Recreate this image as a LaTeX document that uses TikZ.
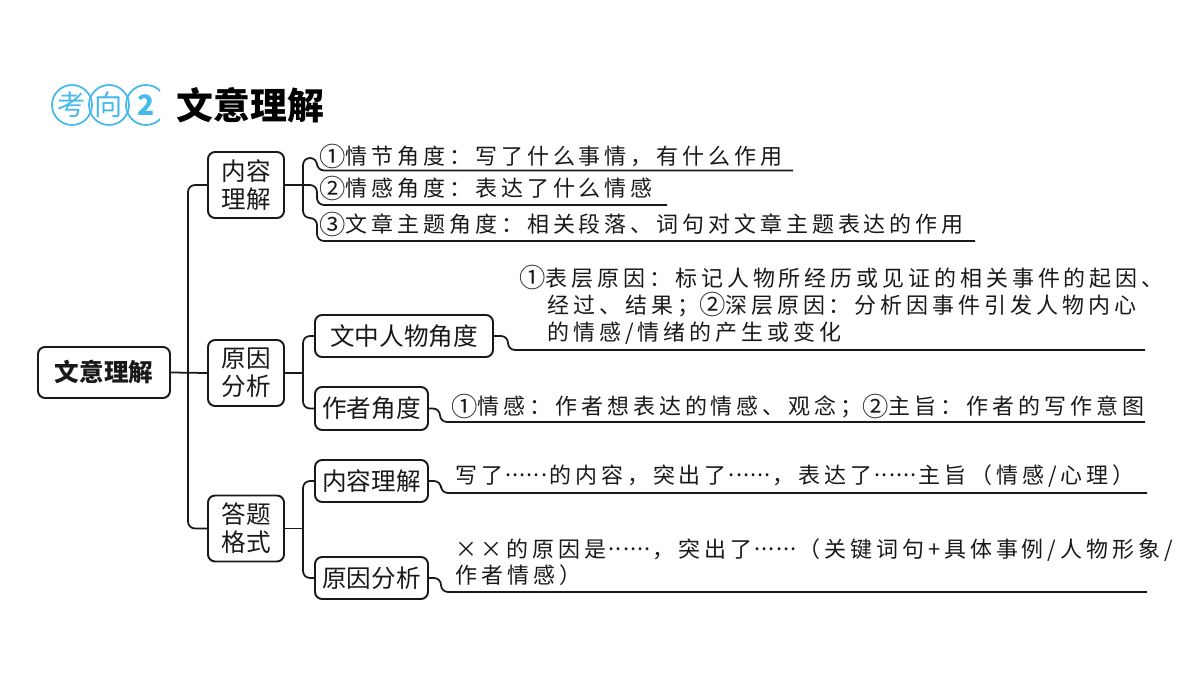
\documentclass[tikz,border=0pt]{standalone}
\usepackage{fontspec}
\usepackage{graphicx}
\setmainfont{Noto Sans CJK SC}
\newfontfamily\cjkitem[LetterSpace=18]{Noto Sans CJK SC}
\newcommand{\circn}[1]{\raisebox{-0.07em}{\scalebox{1.2}{#1}}}
\newcommand{\sixdots}{\raisebox{0.32em}{\makebox[2.1em]{\hfil.\hfil.\hfil.\hfil.\hfil.\hfil.\hfil}}}
\definecolor{badge}{RGB}{70,185,235}
\definecolor{ink}{RGB}{25,25,25}
\begin{document}
\begin{tikzpicture}[x=0.02cm,y=-0.02cm,
  box/.style={draw=ink, line width=1.1pt, rounded corners=4pt, inner sep=0pt, align=center, text=ink},
  boxtwo/.style={box, minimum width=1.52cm, minimum height=1.32cm, font=\fontsize{14}{16}\selectfont},
  boxthree/.style={box, minimum width=2.26cm, minimum height=0.84cm, font=\fontsize{14}{16}\selectfont},
  conn/.style={draw=ink, line width=1pt, rounded corners=4pt},
  item/.style={anchor=west, inner sep=0pt, font=\cjkitem\fontsize{12.5}{15.6}\selectfont, align=left, text=ink},
  badgec/.style={circle, draw=badge, line width=1pt, minimum size=0.8cm, inner sep=0pt, text=badge, font=\fontsize{16}{16}\selectfont},
]
\useasboundingbox (0,0) rectangle (1200,675);

% title
\begin{scope}
\clip (40,80) rectangle (160,130);
\node[badgec] (k1) at (72,105) {考};
\node[badgec] (k2) at (109,105) {向};
\node[badgec, font=\bfseries\fontsize{16}{16}\selectfont] (k3) at (146,105) {2};
\end{scope}
\node[anchor=west, inner sep=0pt, font=\bfseries\fontsize{21}{21}\selectfont] (title) at (176,105) {文意理解};

% main nodes
\node[box, minimum width=2.64cm, minimum height=1.02cm, font=\bfseries\fontsize{14}{16}\selectfont] (root) at (104,372.5) {文意理解};
\node[boxtwo] (n1) at (246,185) {内容\\理解};
\node[boxtwo] (n2) at (246,373) {原因\\分析};
\node[boxtwo] (n3) at (246,528.5) {答题\\格式};
\node[boxthree, minimum width=3.56cm] (m1) at (404,336) {文中人物角度};
\node[boxthree, minimum height=0.86cm] (m2) at (371.5,408.5) {作者角度};
\node[boxthree] (m3) at (371.5,481) {内容理解};
\node[boxthree] (m4) at (371.5,578) {原因分析};

% trunk
\coordinate (tr) at (188,372.5);
\draw[conn] (root.east) -- (n2.west);
\draw[conn] (n1.west) -- (n1.west -| tr) -- (n3.west -| tr) -- (n3.west);

% branch 1
\coordinate (u11) at (793,170.5);
\coordinate (u12) at (667,205);
\coordinate (u13) at (975,241);
\draw[conn] (n1.east) -- (317,185) -- (317,205) -- (u12);
\draw[conn] (u11) -- (317,170.5) -- (317,158) -- (303,158) -- (303,218) -- (317,218) -- (317,241) -- (u13);
\node[item] (t11) at (319,156) {\circn{①}情节角度：写了什么事情，有什么作用};
\node[item] (t12) at (319,188) {\circn{②}情感角度：表达了什么情感};
\node[item] (t13) at (319,224) {\circn{③}文章主题角度：相关段落、词句对文章主题表达的作用};

% branch 2
\coordinate (b2) at (303,373);
\draw[conn] (n2.east) -- (b2);
\draw[conn] (m1.west) -- (m1.west -| b2) -- (m2.west -| b2) -- (m2.west);
\coordinate (u21) at (1145,350);
\coordinate (u22) at (1145,422);
\draw[conn] (m1.east) -- (508,336) -- (508,350) -- (u21);
\draw[conn] (m2.east) -- (440,408.5) -- (440,422) -- (u22);
\node[item] (t21) at (519,305) {\circn{①}表层原因：标记人物所经历或见证的相关事件的起因、\\\hspace*{16pt}经过、结果；\circn{②}深层原因：分析因事件引发人物内心\\\hspace*{16pt}的情感/情绪的产生或变化};
\node[item] (t22) at (451,406) {\circn{①}情感：作者想表达的情感、观念；\circn{②}主旨：作者的写作意图};

% branch 3
\coordinate (b3) at (303,528.5);
\draw[conn] (n3.east) -- (b3);
\draw[conn] (m3.west) -- (m3.west -| b3) -- (m4.west -| b3) -- (m4.west);
\coordinate (u31) at (1147,493);
\coordinate (u32) at (1147,592);
\draw[conn] (m3.east) -- (441,481) -- (441,493) -- (u31);
\draw[conn] (m4.east) -- (441,578) -- (441,592) -- (u32);
\node[item] (t31) at (455,476) {写了\sixdots 的内容，突出了\sixdots ，表达了\sixdots 主旨（情感/心理）};
\node[item, font=\cjkitem\fontsize{12.5}{14.7}\selectfont] (t32) at (455,562) {×\,×的原因是\sixdots ，突出了\sixdots （关键词句+具体事例/人物形象/\\作者情感）};
\end{tikzpicture}
\end{document}
